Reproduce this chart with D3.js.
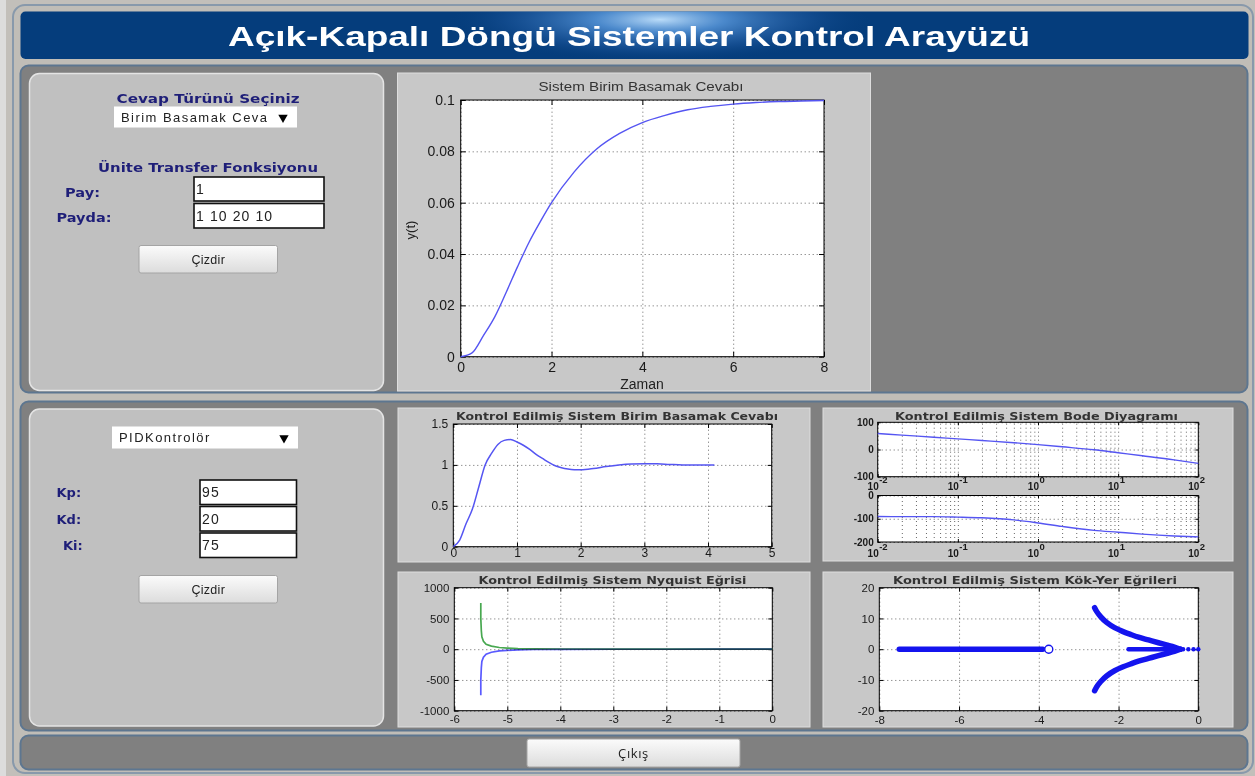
<!DOCTYPE html>
<html>
<head>
<meta charset="utf-8">
<script src="https://cdn.jsdelivr.net/npm/d3@7"></script>
<style>
  html, body { margin: 0; padding: 0; background: #c2bfba; overflow: hidden; }
  svg { display: block; }
</style>
</head>
<body>
<script>
// ---------- values shown in the interface ----------
const appTitle = "Açık-Kapalı Döngü Sistemler Kontrol Arayüzü";
const numeratorText = "1";
const denominatorText = "1 10 20 10";
const gainLabels = ["Kp:", "Kd:", "Ki:"];
const gainValues = ["95", "20", "75"];

// open-loop unit step response y(t)
const stepTime   = [0, 0.25, 0.5, 0.75, 1, 1.25, 1.5, 1.75, 2, 2.5, 3, 3.5, 4, 4.5, 5, 5.5, 6, 6.5, 7, 7.5, 8];
const stepValues = [0, 0.0015, 0.0082, 0.0155, 0.025, 0.035, 0.0444, 0.0525, 0.060, 0.072, 0.081, 0.087,
                    0.0912, 0.094, 0.0962, 0.0975, 0.0984, 0.099, 0.0994, 0.0996, 0.0998];
const stepXTicks = [0, 2, 4, 6, 8];
const stepYTicks = [0, 0.02, 0.04, 0.06, 0.08, 0.1];

// closed-loop (PID) unit step response
const pidTime   = [0, 0.1, 0.2, 0.3, 0.4, 0.5, 0.6, 0.7, 0.8, 0.9, 1.0, 1.1, 1.2, 1.3, 1.4, 1.5, 1.6, 1.7,
                   1.8, 1.9, 2.0, 2.2, 2.4, 2.6, 2.8, 3.0, 3.2, 3.4, 3.6, 3.8, 4.1];
const pidValues = [0, 0.08, 0.28, 0.46, 0.73, 1.0, 1.14, 1.25, 1.3, 1.31, 1.28, 1.24, 1.19, 1.13, 1.08, 1.03,
                   0.99, 0.965, 0.95, 0.942, 0.94, 0.955, 0.98, 1.0, 1.012, 1.015, 1.013, 1.006, 1.0, 0.999, 1.0];
const pidXTicks = [0, 1, 2, 3, 4, 5];
const pidYTicks = [0, 0.5, 1, 1.5];

// Bode diagram (frequency in rad/s, magnitude in dB, phase in degrees)
const bodeFreq  = [0.01, 0.02, 0.05, 0.1, 0.2, 0.5, 1, 2, 5, 10, 20, 50, 100];
const bodeMag   = [59, 53, 45, 39, 33, 25, 18, 10, -1, -12, -23, -38, -51];
const bodePhase = [-90, -91, -91, -93, -96, -105, -118, -133, -150, -158, -166, -174, -178];
const bodeDecades = [0.01, 0.1, 1, 10, 100];
const bodeExponents = ["-2", "-1", "0", "1", "2"];
const bodeMagTicks = [-100, 0, 100];
const bodePhaseTicks = [-200, -100, 0];

// Nyquist curve: positive-frequency branch (lower) and mirrored branch (upper)
const nyqReUpper = [-5.5, -5.5, -5.49, -5.48, -5.45, -5.4, -5.3, -5.15, -5.0, -4.8, -4.5, -4.0, -3.0, -2.0, -1.0, -0.3, 0];
const nyqImUpper = [750, 500, 300, 200, 130, 80, 50, 28, 18, 10, 5, 3, 1, 0.5, 0.2, 0.1, 0];
const nyqReLower = [-5.5, -5.5, -5.49, -5.48, -5.45, -5.4, -5.3, -5.15, -5.0, -4.8, -4.5, -4.0, -3.0, -2.0, -1.0, -0.3, 0];
const nyqImLower = [-750, -500, -300, -200, -130, -80, -50, -28, -18, -10, -5, -3, -1, -0.5, -0.2, -0.1, 0];
const nyqXTicks = [-6, -5, -4, -3, -2, -1, 0];
const nyqYTicks = [-1000, -500, 0, 500, 1000];

// Root locus branches
const rlLeftRe   = [-7.5, -3.9];
const rlLeftIm   = [0, 0];
const rlUpperRe  = [-0.45, -0.6, -0.8, -1.0, -1.25, -1.5, -1.7, -1.9, -2.1, -2.3, -2.45, -2.55, -2.6];
const rlUpperIm  = [0, 0.7, 1.4, 2.1, 3.0, 3.9, 4.8, 5.8, 7.0, 8.7, 10.6, 12.3, 13.5];
const rlLowerRe  = [-0.45, -0.6, -0.8, -1.0, -1.25, -1.5, -1.7, -1.9, -2.1, -2.3, -2.45, -2.55, -2.6];
const rlLowerIm  = [0, -0.7, -1.4, -2.1, -3.0, -3.9, -4.8, -5.8, -7.0, -8.7, -10.6, -12.3, -13.5];
const rlRightRe  = [-1.75, -0.5];
const rlRightIm  = [0, 0];
const rlDotsRe   = [-0.38, -0.25, -0.12, 0];
const rlZeroRe   = [-3.75];
const rlXTicks = [-8, -6, -4, -2, 0];
const rlYTicks = [-20, -10, 0, 10, 20];

// ---------- drawing ----------
const W = 1255, H = 776;
const PLOT_FONT = "'Liberation Sans', Arial, sans-serif";
const UI_BOLD = "'DejaVu Sans', Verdana, sans-serif";
const NAVY = "#1e1e78";
const CURVE = "#5555f2";

const svg = d3.select("body").append("svg").attr("width", W).attr("height", H);
const defs = svg.append("defs");

// backdrop and outer frame
svg.append("rect").attr("width", W).attr("height", H).attr("fill", "#c2bfba");
svg.append("rect").attr("width", 6).attr("height", H).attr("fill", "#dcdcdc");
svg.append("rect").attr("x", 13).attr("y", 5).attr("width", 1240).attr("height", 768).attr("rx", 12)
  .attr("fill", "#c0bdb7").attr("stroke", "#8899ab").attr("stroke-width", 2);

// title banner with a soft light burst in its middle
const glow = defs.append("radialGradient").attr("id", "glow")
  .attr("cx", "0.5").attr("cy", "0.4").attr("r", "0.5");
glow.append("stop").attr("offset", "0").attr("stop-color", "#c4e4ff").attr("stop-opacity", 0.95);
glow.append("stop").attr("offset", "0.3").attr("stop-color", "#62a2e6").attr("stop-opacity", 0.75);
glow.append("stop").attr("offset", "0.7").attr("stop-color", "#2a66b0").attr("stop-opacity", 0.35);
glow.append("stop").attr("offset", "1").attr("stop-color", "#053d7c").attr("stop-opacity", 0);
defs.append("clipPath").attr("id", "bannerClip").append("rect")
  .attr("x", 20.5).attr("y", 11.5).attr("width", 1228).attr("height", 47.5).attr("rx", 5);
svg.append("rect").attr("x", 20.5).attr("y", 11.5).attr("width", 1228).attr("height", 47.5).attr("rx", 5)
  .attr("fill", "#053d7c");
svg.append("ellipse").attr("clip-path", "url(#bannerClip)").attr("cx", 660).attr("cy", 28)
  .attr("rx", 215).attr("ry", 42).attr("fill", "url(#glow)");
svg.append("text").attr("x", 629).attr("y", 45.5).attr("text-anchor", "middle")
  .attr("font-family", "'Liberation Sans', Arial, sans-serif").attr("font-weight", "bold").attr("font-size", 28)
  .attr("fill", "#fff").attr("textLength", 802).attr("lengthAdjust", "spacingAndGlyphs").text(appTitle);

// gray panels
function panel(x, y, w, h) {
  svg.append("rect").attr("x", x).attr("y", y).attr("width", w).attr("height", h).attr("rx", 8)
    .attr("fill", "#808080").attr("stroke", "#5d7690").attr("stroke-width", 2);
}
panel(20.5, 65.5, 1227, 327);
panel(20.5, 401.5, 1227, 329);
panel(20.5, 735.5, 1227, 34);

function subPanel(x, y, w, h) {
  svg.append("rect").attr("x", x).attr("y", y).attr("width", w).attr("height", h).attr("rx", 10)
    .attr("fill", "#c0c0c0").attr("stroke", "#e4e4e4").attr("stroke-width", 1.5);
}
subPanel(29.5, 73.5, 354, 317);
subPanel(29.5, 409, 354, 317);

// button
const btnGrad = defs.append("linearGradient").attr("id", "btn").attr("x1", 0).attr("y1", 0).attr("x2", 0).attr("y2", 1);
btnGrad.append("stop").attr("offset", 0).attr("stop-color", "#fbfbfb");
btnGrad.append("stop").attr("offset", 1).attr("stop-color", "#dcdcdc");
function button(x, y, w, h, label, fs, font, ls) {
  svg.append("rect").attr("x", x).attr("y", y).attr("width", w).attr("height", h).attr("rx", 2)
    .attr("fill", "url(#btn)").attr("stroke", "#a4a4a4");
  svg.append("text").attr("x", x + w / 2).attr("y", y + h / 2 + fs * 0.36).attr("text-anchor", "middle")
    .attr("font-family", font).attr("font-size", fs).attr("letter-spacing", ls).attr("fill", "#222").text(label);
}

function label(x, y, txt, opts = {}) {
  const t = svg.append("text").attr("x", x).attr("y", y)
    .attr("font-family", opts.font || UI_BOLD).attr("font-weight", opts.weight || "bold")
    .attr("font-size", opts.size || 13).attr("fill", opts.fill || NAVY)
    .attr("text-anchor", opts.anchor || "start").text(txt);
  if (opts.len) t.attr("textLength", opts.len).attr("lengthAdjust", "spacingAndGlyphs");
  if (opts.ls) t.attr("letter-spacing", opts.ls);
  return t;
}

// drop-down list: white field, clipped caption and a solid down arrow
function dropdown(x, y, w, h, txt, id) {
  svg.append("rect").attr("x", x).attr("y", y).attr("width", w).attr("height", h).attr("fill", "#fff");
  defs.append("clipPath").attr("id", id).append("rect").attr("x", x + 4).attr("y", y).attr("width", w - 33).attr("height", h);
  const holder = svg.append("g").attr("clip-path", `url(#${id})`);
  holder.append("text").attr("x", x + 7).attr("y", y + h / 2 + 4.5)
    .attr("font-family", PLOT_FONT).attr("font-size", 13).attr("letter-spacing", 1.45).attr("fill", "#222").text(txt);
  svg.append("path").attr("d", d3.symbol().type(d3.symbolTriangle).size(38)())
    .attr("transform", `translate(${x + w - 14},${y + h / 2 + 0.5}) rotate(180)`).attr("fill", "#000");
}

function inputBox(x, y, w, h, txt) {
  svg.append("rect").attr("x", x).attr("y", y).attr("width", w).attr("height", h)
    .attr("fill", "#fff").attr("stroke", "#111").attr("stroke-width", 1.6);
  svg.append("text").attr("x", x + 2).attr("y", y + h / 2 + 5)
    .attr("font-family", PLOT_FONT).attr("font-size", 14).attr("letter-spacing", 1.1).attr("fill", "#222").text(txt);
}

// upper control panel
label(208, 102.5, "Cevap Türünü Seçiniz", { anchor: "middle", len: 183, size: 13 });
dropdown(114, 106.5, 183, 21, "Birim Basamak Cevabı", "clipDd1");
label(208, 172, "Ünite Transfer Fonksiyonu", { anchor: "middle", len: 220, size: 13 });
label(65, 196.5, "Pay:", { size: 13, len: 35 });
label(56.5, 222, "Payda:", { size: 13, len: 55 });
inputBox(194, 177, 130, 24, numeratorText);
inputBox(194, 203.5, 130, 24.5, denominatorText);
button(139, 245.5, 138.5, 27.5, "Çizdir", 12.5, PLOT_FONT, 0.3);

// lower control panel
dropdown(112, 426.5, 186, 22, "PIDKontrolör", "clipDd2");
const gainBoxY = [480, 506.5, 533];
const gainLabelX = [56.5, 56.5, 63];
gainLabels.forEach((g, i) => {
  label(gainLabelX[i], gainBoxY[i] + 17.3, g, { size: 13 });
  inputBox(200, gainBoxY[i], 96.5, 24.5, gainValues[i]);
});
button(139, 575.5, 138.5, 27.5, "Çizdir", 12.5, PLOT_FONT, 0.3);

// exit button
button(527, 739, 213, 28, "Çıkış", 13, "'Open Sans', 'Noto Sans', sans-serif", 0.6);

// figure backgrounds
function figure(x, y, w, h) {
  svg.append("rect").attr("x", x).attr("y", y).attr("width", w).attr("height", h)
    .attr("fill", "#c8c8c8").attr("stroke", "#dedede").attr("stroke-width", 1);
}
figure(397.5, 73, 473, 318);
figure(398, 408, 412, 154);
figure(823, 408, 410, 153);
figure(398, 572, 412, 155);
figure(823, 572, 410, 155);

// MATLAB-style axes: white box, dotted grid, inward ticks on every side
const numFmt = d => String(+(+d).toFixed(3));
function axesFrame(box, xs, ys, cfg) {
  const g = svg.append("g").attr("transform", `translate(${box.l},${box.t})`);
  g.append("rect").attr("width", box.w).attr("height", box.h).attr("fill", "#fff");
  const gridX = g.append("g").attr("transform", `translate(0,${box.h})`)
    .call(d3.axisBottom(xs).tickValues(cfg.gridX || cfg.xTicks).tickSize(-box.h).tickFormat(""));
  const gridY = g.append("g")
    .call(d3.axisLeft(ys).tickValues(cfg.gridY || cfg.yTicks).tickSize(-box.w).tickFormat(""));
  [gridX, gridY].forEach(a => {
    a.select(".domain").remove();
    a.selectAll("line").attr("stroke", "#000").attr("stroke-dasharray", "1,3").attr("stroke-opacity", 0.6);
  });
  const bx = g.append("g").attr("transform", `translate(0,${box.h})`)
    .call(d3.axisBottom(xs).tickValues(cfg.xTicks).tickSize(-cfg.tick).tickPadding(cfg.padX)
      .tickFormat(cfg.xFmt === undefined ? numFmt : cfg.xFmt));
  const ly = g.append("g")
    .call(d3.axisLeft(ys).tickValues(cfg.yTicks).tickSize(-cfg.tick).tickPadding(cfg.padY).tickFormat(numFmt));
  const tx = g.append("g").call(d3.axisTop(xs).tickValues(cfg.xTicks).tickSize(-cfg.tick).tickFormat(""));
  const ry = g.append("g").attr("transform", `translate(${box.w},0)`)
    .call(d3.axisRight(ys).tickValues(cfg.yTicks).tickSize(-cfg.tick).tickFormat(""));
  [bx, ly, tx, ry].forEach(a => {
    a.select(".domain").remove();
    a.attr("font-family", PLOT_FONT).attr("font-size", cfg.fs).attr("font-weight", cfg.fw || "normal");
    a.selectAll("text").attr("fill", "#1a1a1a");
    a.selectAll("line").attr("stroke", "#000");
  });
  g.append("rect").attr("width", box.w).attr("height", box.h).attr("fill", "none")
    .attr("stroke", "#000").attr("stroke-width", 1);
  return g;
}

function plotTitle(x, y, txt, len, size, bold) {
  svg.append("text").attr("x", x).attr("y", y).attr("text-anchor", "middle")
    .attr("font-family", bold ? UI_BOLD : PLOT_FONT).attr("font-weight", bold ? "bold" : "normal")
    .attr("font-size", size).attr("fill", "#333")
    .attr("textLength", len).attr("lengthAdjust", "spacingAndGlyphs").text(txt);
}

// --- open-loop step response ---
{
  const box = { l: 460.7, t: 100, w: 363.3, h: 256.7 };
  const xs = d3.scaleLinear().domain([0, 8]).range([0, box.w]);
  const ys = d3.scaleLinear().domain([0, 0.1]).range([box.h, 0]);
  const g = axesFrame(box, xs, ys, { xTicks: stepXTicks, yTicks: stepYTicks, tick: 5, padX: 5, padY: 6, fs: 14 });
  g.append("path").datum(d3.zip(stepTime, stepValues))
    .attr("d", d3.line().x(d => xs(d[0])).y(d => ys(d[1])).curve(d3.curveMonotoneX))
    .attr("fill", "none").attr("stroke", CURVE).attr("stroke-width", 1.4);
  plotTitle(641, 90.5, "Sistem Birim Basamak Cevabı", 205, 13.5, false);
  svg.append("text").attr("x", 642).attr("y", 388.5).attr("text-anchor", "middle")
    .attr("font-family", PLOT_FONT).attr("font-size", 14).attr("fill", "#222").text("Zaman");
  svg.append("text").attr("transform", "translate(415,230) rotate(-90)").attr("text-anchor", "middle")
    .attr("font-family", PLOT_FONT).attr("font-size", 13).attr("fill", "#222").text("y(t)");
}

// --- closed-loop step response ---
{
  const box = { l: 453.3, t: 424, w: 318.4, h: 122.7 };
  const xs = d3.scaleLinear().domain([0, 5]).range([0, box.w]);
  const ys = d3.scaleLinear().domain([0, 1.5]).range([box.h, 0]);
  const g = axesFrame(box, xs, ys, { xTicks: pidXTicks, yTicks: pidYTicks, tick: 4, padX: 2, padY: 5, fs: 12 });
  g.append("path").datum(d3.zip(pidTime, pidValues))
    .attr("d", d3.line().x(d => xs(d[0])).y(d => ys(d[1])).curve(d3.curveMonotoneX))
    .attr("fill", "none").attr("stroke", CURVE).attr("stroke-width", 1.5);
  plotTitle(617, 420, "Kontrol Edilmiş Sistem Birim Basamak Cevabı", 322, 10.5, true);
}

// --- Bode diagram ---
{
  const minorFreq = [];
  bodeDecades.slice(0, -1).forEach(d => { for (let k = 1; k <= 9; k++) minorFreq.push(d * k); });
  minorFreq.push(100);
  const magBox = { l: 877.7, t: 422.3, w: 320.6, h: 54.4 };
  const phBox = { l: 877.7, t: 495.5, w: 320.6, h: 46.5 };
  const xsM = d3.scaleLog().domain([0.01, 100]).range([0, magBox.w]);
  const ysM = d3.scaleLinear().domain([-100, 100]).range([magBox.h, 0]);
  const ysP = d3.scaleLinear().domain([-200, 0]).range([phBox.h, 0]);
  const cfg = { xTicks: bodeDecades, gridX: minorFreq, tick: 3, padX: 2, padY: 4, fs: 10, fw: "bold", xFmt: "" };
  const gm = axesFrame(magBox, xsM, ysM, Object.assign({ yTicks: bodeMagTicks }, cfg));
  const gp = axesFrame(phBox, xsM, ysP, Object.assign({ yTicks: bodePhaseTicks }, cfg));
  gm.append("path").datum(d3.zip(bodeFreq, bodeMag))
    .attr("d", d3.line().x(d => xsM(d[0])).y(d => ysM(d[1])).curve(d3.curveMonotoneX))
    .attr("fill", "none").attr("stroke", CURVE).attr("stroke-width", 1.4);
  gp.append("path").datum(d3.zip(bodeFreq, bodePhase))
    .attr("d", d3.line().x(d => xsM(d[0])).y(d => ysP(d[1])).curve(d3.curveMonotoneX))
    .attr("fill", "none").attr("stroke", CURVE).attr("stroke-width", 1.4);
  // decade labels 10^n under each axes
  [[gm, magBox.h + 13], [gp, phBox.h + 14.5]].forEach(([g, yb]) => {
    const lab = g.append("g").attr("font-family", PLOT_FONT).attr("font-size", 10)
      .attr("font-weight", "bold").attr("fill", "#1a1a1a");
    lab.selectAll("text.base").data(bodeDecades).join("text").attr("class", "base")
      .attr("x", d => xsM(d) + 1).attr("y", yb).attr("text-anchor", "end").text("10");
    lab.selectAll("text.exp").data(bodeDecades).join("text").attr("class", "exp")
      .attr("x", d => xsM(d) + 1.5).attr("y", yb - 7).attr("font-size", 9.5)
      .text((d, i) => bodeExponents[i]);
  });
  plotTitle(1036.5, 419.5, "Kontrol Edilmiş Sistem Bode Diyagramı", 283, 10.5, true);
}

// --- Nyquist curve ---
{
  const box = { l: 454.3, t: 587.7, w: 318, h: 123 };
  const xs = d3.scaleLinear().domain([-6, 0]).range([0, box.w]);
  const ys = d3.scaleLinear().domain([-1000, 1000]).range([box.h, 0]);
  const g = axesFrame(box, xs, ys, { xTicks: nyqXTicks, yTicks: nyqYTicks, tick: 4, padX: 4, padY: 5, fs: 11.5 });
  const line = d3.line().x(d => xs(d[0])).y(d => ys(d[1]));
  g.append("path").datum(d3.zip(nyqReUpper, nyqImUpper)).attr("d", line)
    .attr("fill", "none").attr("stroke", "#48a850").attr("stroke-width", 1.7);
  g.append("path").datum(d3.zip(nyqReLower, nyqImLower)).attr("d", line)
    .attr("fill", "none").attr("stroke", "#5a5aff").attr("stroke-width", 1.7)
    .style("mix-blend-mode", "multiply");
  plotTitle(612.5, 583.5, "Kontrol Edilmiş Sistem Nyquist Eğrisi", 268, 10.5, true);
}

// --- root locus ---
{
  const box = { l: 879.3, t: 587.7, w: 319, h: 123 };
  const xs = d3.scaleLinear().domain([-8, 0]).range([0, box.w]);
  const ys = d3.scaleLinear().domain([-20, 20]).range([box.h, 0]);
  const g = axesFrame(box, xs, ys, { xTicks: rlXTicks, yTicks: rlYTicks, tick: 4, padX: 5, padY: 5, fs: 11.5 });
  const line = d3.line().x(d => xs(d[0])).y(d => ys(d[1])).curve(d3.curveMonotoneY);
  const straight = d3.line().x(d => xs(d[0])).y(d => ys(d[1]));
  const RL = "#1414ee";
  [[rlLeftRe, rlLeftIm, straight, 5.5], [rlRightRe, rlRightIm, straight, 4.5],
   [rlUpperRe, rlUpperIm, line, 5.5], [rlLowerRe, rlLowerIm, line, 5.5]].forEach(([re, im, gen, sw]) => {
    g.append("path").datum(d3.zip(re, im)).attr("d", gen).attr("fill", "none")
      .attr("stroke", RL).attr("stroke-width", sw).attr("stroke-linecap", "round").attr("stroke-linejoin", "round");
  });
  g.selectAll("circle.dot").data(rlDotsRe).join("circle").attr("class", "dot")
    .attr("cx", d => xs(d)).attr("cy", ys(0)).attr("r", 2.2).attr("fill", RL);
  g.selectAll("circle.zero").data(rlZeroRe).join("circle").attr("class", "zero")
    .attr("cx", d => xs(d)).attr("cy", ys(0)).attr("r", 4).attr("fill", "#fff")
    .attr("stroke", RL).attr("stroke-width", 1.4);
  plotTitle(1035, 583.5, "Kontrol Edilmiş Sistem Kök-Yer Eğrileri", 284, 10.5, true);
}
</script>
</body>
</html>
